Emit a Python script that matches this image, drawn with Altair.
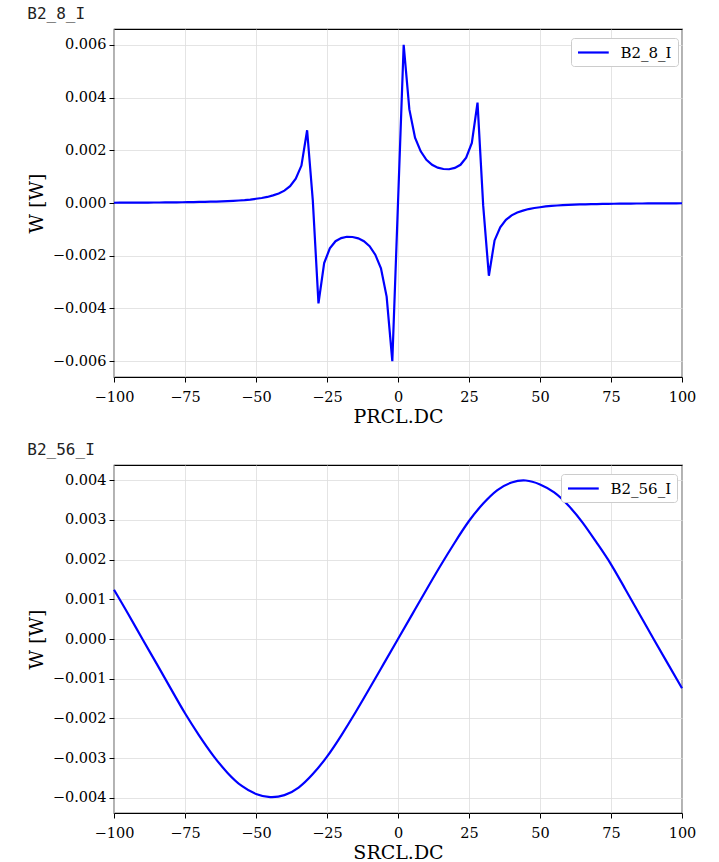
import altair as alt
import pandas as pd

# ---- top panel: B2_8_I vs PRCL.DC ----
X_TOP = list(range(-100, 101, 2))
W_TOP_NEG = [
    0.000010, 0.000011, 0.000012, 0.000013, 0.000014, 0.000015, 0.000016, 0.000018,
    0.000019, 0.000021, 0.000023, 0.000026, 0.000028, 0.000031, 0.000035, 0.000039,
    0.000043, 0.000049, 0.000055, 0.000062, 0.000071, 0.000082, 0.000095, 0.00011,
    0.00013, 0.00016, 0.00019, 0.00023, 0.00029, 0.00036, 0.00047, 0.00064,
    0.00092, 0.00142, 0.00276, 0.00010, -0.00381, -0.00228, -0.00172, -0.00145,
    -0.00133, -0.00128, -0.00129, -0.00134, -0.00145, -0.00164, -0.00196, -0.00248,
    -0.00355, -0.00600,
]
W_TOP_ZERO = [0.0]
W_TOP_POS = [
    0.00600, 0.00355, 0.00248, 0.00196, 0.00164, 0.00145, 0.00134, 0.00129,
    0.00128, 0.00133, 0.00145, 0.00172, 0.00228, 0.00381, -0.00010, -0.00276,
    -0.00142, -0.00092, -0.00064, -0.00047, -0.00036, -0.00029, -0.00023, -0.00019,
    -0.00016, -0.00013, -0.00011, -0.000095, -0.000082, -0.000071, -0.000062, -0.000055,
    -0.000049, -0.000043, -0.000039, -0.000035, -0.000031, -0.000028, -0.000026, -0.000023,
    -0.000021, -0.000019, -0.000018, -0.000016, -0.000015, -0.000014, -0.000013, -0.000012,
    -0.000011, -0.000010,
]
W_TOP = W_TOP_NEG + W_TOP_ZERO + W_TOP_POS

# ---- bottom panel: B2_56_I vs SRCL.DC ----
X_BOT = list(range(-100, 101, 5))
W_BOT = [
    0.00124, 0.00063, 0.00000, -0.00062, -0.00125, -0.00187, -0.00243, -0.00294,
    -0.00337, -0.00370, -0.00390, -0.00398, -0.00393, -0.00374, -0.00340, -0.00296,
    -0.00243, -0.00185, -0.00124, -0.00062, 0.00000,
    0.00062, 0.00124, 0.00185, 0.00243, 0.00297, 0.00341, 0.00375, 0.00394,
    0.00399, 0.00389, 0.00369, 0.00336, 0.00293, 0.00242, 0.00188, 0.00126,
    0.00063, 0.00000, -0.00062, -0.00124,
]

X_TICKS = [-100, -75, -50, -25, 0, 25, 50, 75, 100]
Y_TICKS_TOP = [-0.006, -0.004, -0.002, 0.0, 0.002, 0.004, 0.006]
Y_TICKS_BOT = [-0.004, -0.003, -0.002, -0.001, 0.0, 0.001, 0.002, 0.003, 0.004]

df_top = pd.DataFrame({"x": X_TOP, "W": W_TOP, "series": "B2_8_I"})
df_bot = pd.DataFrame({"x": X_BOT, "W": W_BOT, "series": "B2_56_I"})


def legend(lx):
    return alt.Legend(
        title=None, orient="none", legendX=lx, legendY=9,
        strokeColor="#cccccc", fillColor="white", cornerRadius=3,
        padding=5.5, symbolType="M-1,0H3.1", symbolSize=225, symbolStrokeWidth=2.2,
        symbolFillColor="transparent",
        labelFont="DejaVu Serif", labelFontSize=15, labelColor="black",
        labelOffset=26,
    )


def panel(df, name, xtitle, ydom, yticks, interp, lx):
    return alt.Chart(df).mark_line(strokeWidth=2.2, interpolate=interp).encode(
        x=alt.X("x:Q", scale=alt.Scale(domain=[-100, 100], nice=False, zero=False),
                axis=alt.Axis(title=xtitle, values=X_TICKS, format="d", labelFlush=False)),
        y=alt.Y("W:Q", scale=alt.Scale(domain=ydom, nice=False, zero=False),
                axis=alt.Axis(title="W [W]", values=yticks, format=".3f", labelFlush=False)),
        color=alt.Color("series:N", scale=alt.Scale(domain=[name], range=["#0000ff"]),
                        legend=legend(lx)),
    ).properties(
        width=568, height=348,
        title=alt.TitleParams(name, anchor="start", frame="bounds", font="DejaVu Sans Mono",
                              fontSize=16, fontWeight="normal", color="#222222", offset=7),
    )


top = panel(df_top, "B2_8_I", "PRCL.DC", [-0.0066, 0.0066], Y_TICKS_TOP, "linear", 457)
bot = panel(df_bot, "B2_56_I", "SRCL.DC", [-0.00438, 0.00438], Y_TICKS_BOT, "natural", 447)

chart = alt.vconcat(top, bot, spacing=13).resolve_scale(color="independent").properties(
    padding={"left": 26, "top": 5, "right": 8, "bottom": 0}
).configure_view(stroke="black", strokeWidth=1.2).configure_axis(
    labelFont="DejaVu Serif", labelFontSize=14.5, labelColor="black",
    titleFont="DejaVu Serif", titleFontSize=19, titleFontWeight="normal", titleColor="black",
    gridColor="#dddddd", gridWidth=0.8, tickColor="black", tickSize=5, domain=False,
).configure_axisY(titlePadding=6, labelPadding=3).configure_axisX(titlePadding=4, labelPadding=8)

chart.save("out.html", embed_options={"renderer": "svg", "actions": False})
